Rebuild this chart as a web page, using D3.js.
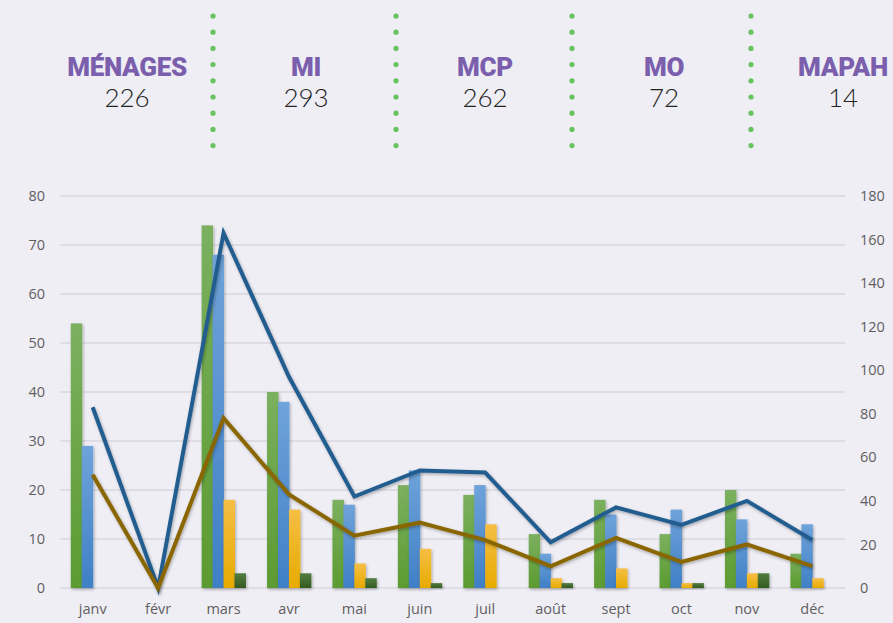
<!DOCTYPE html>
<html><head><meta charset="utf-8">
<script src="https://cdn.jsdelivr.net/npm/d3@7"></script>
<style>
html,body{margin:0;padding:0;background:#efeef5;}
svg{display:block;}
</style></head>
<body>
<svg id="chart" width="893" height="623"></svg>
<script>
const months = ["janv","févr","mars","avr","mai","juin","juil","août","sept","oct","nov","déc"];
const seriesKeys = ["MI","MCP","MO","MAPAH"];
const miValues    = [54,0,74,40,18,21,19,11,18,11,20,7];
const mcpValues   = [29,0,68,38,17,24,21,7,15,16,14,13];
const moValues    = [0,0,18,16,5,8,13,2,4,1,3,2];
const mapahValues = [0,0,3,3,2,1,0,1,0,1,3,0];
const totalLine   = [83,0,163,97,42,54,53,21,37,29,40,22];
const menagesLine = [52,0,78,43,24,30,22,10,23,12,20,10];
const leftTicks  = [0,10,20,30,40,50,60,70,80];
const rightTicks = [0,20,40,60,80,100,120,140,160,180];
const headerLabels = ["MÉNAGES","MI","MCP","MO","MAPAH"];
const headerValues = [226,293,262,72,14];

const svg = d3.select("#chart");
const defs = svg.append("defs");

const grads = [
  {id:"gMI", top:"#7bb05f", bot:"#5c9b31"},
  {id:"gMCP", top:"#6fa3da", bot:"#3f80c6"},
  {id:"gMO", top:"#f5be45", bot:"#e7ab00"},
  {id:"gMAPAH", top:"#537d40", bot:"#345b20"}
];
grads.forEach(g => {
  const lg = defs.append("linearGradient").attr("id", g.id).attr("x1",0).attr("y1",0).attr("x2",0).attr("y2",1);
  lg.append("stop").attr("offset","0%").attr("stop-color", g.top);
  lg.append("stop").attr("offset","100%").attr("stop-color", g.bot);
});
const f = defs.append("filter").attr("id","shadow").attr("x","-30%").attr("y","-30%").attr("width","160%").attr("height","160%");
f.append("feDropShadow").attr("dx",1).attr("dy",1.5).attr("stdDeviation",1.5).attr("flood-color","#000").attr("flood-opacity",0.3);

// Header
const headerX = d3.scalePoint().domain(headerLabels).range([127, 843]);
const header = svg.append("g");
headerLabels.forEach((lab,i) => {
  header.append("text").attr("x", headerX(lab)).attr("y", 76)
    .attr("text-anchor","middle")
    .style("font-family","Roboto, 'Open Sans', sans-serif")
    .style("font-weight","900").style("font-size","26px").style("letter-spacing","-0.3px")
    .attr("fill","#7b5fad").text(lab);
  header.append("text").attr("x", headerX(lab)).attr("y", 107)
    .attr("text-anchor","middle")
    .style("font-family","Lato, 'Open Sans', sans-serif")
    .style("font-weight","300").style("font-size","26px")
    .attr("fill","#222").text(headerValues[i]);
});
// dotted separators
const sepX = [213, 396, 572, 751];
const dotY = d3.range(9).map(i => 16 + i * 16.2);
sepX.forEach(x => {
  dotY.forEach(y => {
    header.append("circle").attr("cx", x).attr("cy", y).attr("r", 2.6).attr("fill", "#66c35e");
  });
});

// Chart scales
const x0 = d3.scaleBand().domain(months).range([60, 845]).paddingInner(0).paddingOuter(0);
const bw = x0.bandwidth();
const x1 = d3.scaleBand().domain(seriesKeys).range([bw*0.165, bw*0.835]).padding(0);
const yL = d3.scaleLinear().domain([0,80]).range([588,196]);
const yR = d3.scaleLinear().domain([0,180]).range([588,196]);

// gridlines
svg.append("g").selectAll("line").data(leftTicks).join("line")
  .attr("x1",60).attr("x2",845).attr("y1",d=>yL(d)).attr("y2",d=>yL(d))
  .attr("stroke","#d8d7df").attr("stroke-width",1.5);

// left axis
const axL = svg.append("g").attr("transform","translate(45,0)")
  .call(d3.axisLeft(yL).tickValues(leftTicks).tickSize(0).tickPadding(0));
axL.select(".domain").remove();
axL.selectAll("text").style("font-family","'Open Sans', sans-serif").style("font-size","14.5px").attr("fill","#5f5f5f");

// right axis
const axR = svg.append("g").attr("transform","translate(860,0)")
  .call(d3.axisRight(yR).tickValues(rightTicks).tickSize(0).tickPadding(0));
axR.select(".domain").remove();
axR.selectAll("text").style("font-family","'Open Sans', sans-serif").style("font-size","14.5px").attr("fill","#5f5f5f");

// bottom axis
const axB = svg.append("g").attr("transform","translate(0,604)")
  .call(d3.axisBottom(x0).tickSize(0).tickPadding(0));
axB.select(".domain").remove();
axB.selectAll("text").attr("dy","0.71em").style("font-family","'Open Sans', sans-serif").style("font-size","14.5px").attr("fill","#5f5f5f");

// bars
const seriesData = {MI: miValues, MCP: mcpValues, MO: moValues, MAPAH: mapahValues};
const barG = svg.append("g");
months.forEach((m, i) => {
  const g = barG.append("g").attr("transform", `translate(${x0(m)},0)`);
  seriesKeys.forEach(k => {
    const v = seriesData[k][i];
    if (v <= 0) return;
    g.append("rect")
      .attr("x", x1(k)).attr("width", x1.bandwidth()+0.5)
      .attr("y", yL(v)).attr("height", yL(0) - yL(v))
      .attr("fill", `url(#g${k})`).attr("filter","url(#shadow)");
  });
});

// lines
const line = d3.line().x((d,i) => x0(months[i]) + bw/2).y(d => yR(d));
svg.append("path").datum(totalLine).attr("d", line)
  .attr("fill","none").attr("stroke","#245d90").attr("stroke-width",4)
  .attr("stroke-linejoin","miter").attr("filter","url(#shadow)");
svg.append("path").datum(menagesLine).attr("d", line)
  .attr("fill","none").attr("stroke","#8a6600").attr("stroke-width",4)
  .attr("stroke-linejoin","miter").attr("filter","url(#shadow)");
</script>
</body></html>
